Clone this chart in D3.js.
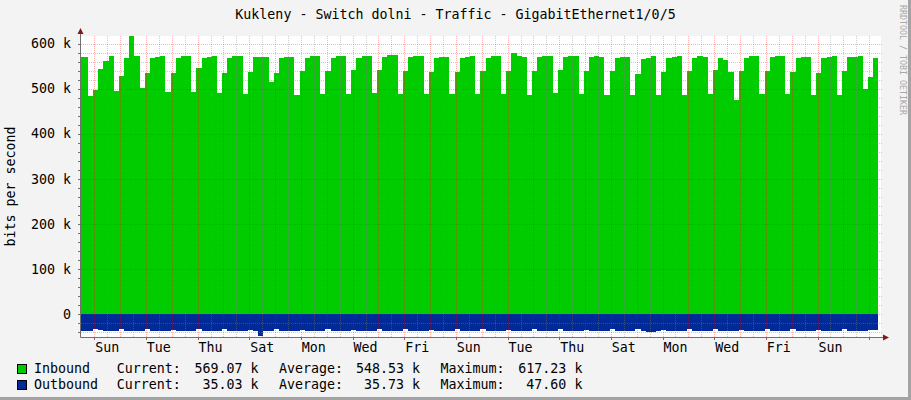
<!DOCTYPE html>
<html>
<head>
<meta charset="utf-8">
<script src="https://cdnjs.cloudflare.com/ajax/libs/d3/7.8.5/d3.min.js"></script>
<style>
    html, body { margin: 0; padding: 0; background: #f3f3f3; }
    svg { display: block; font-family: 'DejaVu Sans Mono', monospace; }
</style>
</head>
<body>
<div id="chart"></div>
<script>
'use strict';

var titleText = 'Kukleny - Switch dolni - Traffic - GigabitEthernet1/0/5';
var yAxisTitle = 'bits per second';

// day labels sit under every second day (day 0 is a Sunday)
var dayLabels = ['Sun', 'Tue', 'Thu', 'Sat', 'Mon', 'Wed', 'Fri', 'Sun',
                 'Tue', 'Thu', 'Sat', 'Mon', 'Wed', 'Fri', 'Sun'];

var yTickValues = [0, 100, 200, 300, 400, 500, 600];
var yTickLabels = ['0', '100 k', '200 k', '300 k', '400 k', '500 k', '600 k'];

// samples in kbit/s, one every 0.2 day, first one starting at day -0.65
var sampleStart = -0.65;
var sampleStep = 0.2;

var inbound = [
    570, 570,
    485, 498, 544, 562, 573,
    496, 529, 569, 617, 573,
    502, 536, 569, 571, 573,
    493, 536, 569, 573, 573,
    493, 547, 569, 571, 573,
    491, 536, 569, 573, 573,
    489, 538, 571, 571, 571,
    516, 536, 569, 571, 571,
    487, 540, 569, 573, 573,
    489, 540, 569, 573, 573,
    489, 542, 569, 573, 573,
    491, 542, 571, 575, 575,
    489, 540, 571, 573, 573,
    489, 538, 569, 571, 571,
    489, 538, 569, 571, 573,
    489, 540, 569, 573, 573,
    489, 540, 580, 573, 571,
    487, 540, 571, 573, 573,
    491, 542, 571, 573, 573,
    489, 540, 571, 573, 571,
    487, 540, 569, 571, 571,
    487, 533, 567, 569, 573,
    487, 538, 569, 571, 573,
    487, 540, 569, 573, 571,
    489, 542, 569, 564, 538,
    476, 540, 569, 573, 573,
    489, 540, 571, 573, 573,
    489, 538, 569, 571, 571,
    487, 536, 569, 571, 573,
    487, 540, 571, 571, 573,
    500, 527, 569
];

var outbound = [
    37, 37,
    36, 33, 34, 37, 37,
    36, 33, 37, 37, 37,
    37, 33, 37, 37, 36,
    37, 34, 37, 37, 37,
    36, 33, 37, 37, 37,
    37, 33, 36, 37, 37,
    36, 34, 37, 47.6, 37,
    36, 33, 37, 37, 37,
    36, 34, 37, 37, 37,
    37, 33, 37, 37, 36,
    36, 34, 37, 37, 37,
    36, 33, 37, 37, 37,
    37, 33, 37, 37, 37,
    36, 34, 37, 37, 37,
    36, 33, 37, 37, 36,
    37, 33, 37, 37, 37,
    36, 34, 37, 37, 37,
    36, 33, 37, 37, 37,
    37, 33, 37, 37, 37,
    36, 34, 37, 37, 37,
    36, 33, 37, 37, 36,
    37, 33, 37, 38, 38,
    36, 34, 37, 37, 37,
    36, 33, 37, 37, 37,
    37, 33, 37, 37, 37,
    36, 34, 37, 37, 37,
    36, 33, 37, 37, 36,
    37, 33, 37, 37, 37,
    36, 34, 37, 37, 37,
    36, 33, 36, 36, 36,
    36, 34, 35
];

var legendNames = ['Inbound', 'Outbound'];
var legendColors = ['#00cc00', '#002a97'];
var currentVals = ['569.07 k', '35.03 k'];
var averageVals = ['548.53 k', '35.73 k'];
var maximumVals = ['617.23 k', '47.60 k'];

var W = 911, H = 400;
var plot = { left: 81, right: 881, top: 36, bottom: 337 };

var svg = d3.select('#chart').append('svg')
    .attr('width', W)
    .attr('height', H)
    .attr('xmlns', 'http://www.w3.org/2000/svg');

svg.append('rect').attr('width', W).attr('height', H).attr('fill', '#f3f3f3');
svg.append('rect').attr('x', W - 3).attr('y', 0).attr('width', 3).attr('height', H).attr('fill', '#a3a3a3');
svg.append('rect').attr('x', 0).attr('y', H - 3).attr('width', W).attr('height', 3).attr('fill', '#a3a3a3');

var x = d3.scaleLinear().domain([-0.515, 30.456]).range([plot.left, plot.right]);
var y = d3.scaleLinear().domain([-50, 617.23]).range([plot.bottom, plot.top]);

svg.append('rect')
    .attr('x', plot.left).attr('y', plot.top)
    .attr('width', plot.right - plot.left).attr('height', plot.bottom - plot.top)
    .attr('fill', '#ffffff');

svg.append('clipPath').attr('id', 'plot-clip')
    .append('rect')
    .attr('x', plot.left).attr('y', plot.top)
    .attr('width', plot.right - plot.left).attr('height', plot.bottom - plot.top);

var toPoints = function(values) {
    var pts = values.map(function(v, i) {
        return { t: sampleStart + i * sampleStep, v: v };
    });
    pts.push({ t: sampleStart + values.length * sampleStep, v: values[values.length - 1] });
    return pts;
};

var data = svg.append('g').attr('clip-path', 'url(#plot-clip)');

data.append('path')
    .datum(toPoints(inbound))
    .attr('fill', legendColors[0])
    .attr('shape-rendering', 'crispEdges')
    .attr('d', d3.area().curve(d3.curveStepAfter)
        .x(function(d) { return x(d.t); })
        .y0(y(0))
        .y1(function(d) { return y(d.v); }));

data.append('path')
    .datum(toPoints(outbound))
    .attr('fill', legendColors[1])
    .attr('shape-rendering', 'crispEdges')
    .attr('d', d3.area().curve(d3.curveStepAfter)
        .x(function(d) { return x(d.t); })
        .y0(y(0))
        .y1(function(d) { return y(-d.v); }));

// grid on top of the data, like rrdtool
var minorGrey = 'rgba(128,128,128,0.4)';
var majorRed = 'rgba(255,0,0,0.3)';
var crisp = function(v) { return Math.round(v) + 0.5; };

var grid = svg.append('g').attr('class', 'grid').attr('stroke-dasharray', '1,1');

var yMinor = d3.range(-40, 617, 20).filter(function(v) { return v % 100 !== 0; });
grid.selectAll('line.y-minor').data(yMinor).enter()
    .append('line')
    .attr('class', 'y-minor')
    .attr('x1', plot.left).attr('x2', plot.right + 2)
    .attr('y1', function(d) { return crisp(y(d)); })
    .attr('y2', function(d) { return crisp(y(d)); })
    .attr('stroke', minorGrey);

var xMinor = d3.range(0.5, 30.5, 1);
grid.selectAll('line.x-minor').data(xMinor).enter()
    .append('line')
    .attr('class', 'x-minor')
    .attr('x1', function(d) { return crisp(x(d)); })
    .attr('x2', function(d) { return crisp(x(d)); })
    .attr('y1', plot.top).attr('y2', plot.bottom)
    .attr('stroke', minorGrey);

grid.selectAll('line.y-major').data(yTickValues).enter()
    .append('line')
    .attr('class', 'y-major')
    .attr('x1', plot.left).attr('x2', plot.right + 2)
    .attr('y1', function(d) { return crisp(y(d)); })
    .attr('y2', function(d) { return crisp(y(d)); })
    .attr('stroke', majorRed);

var xMajor = d3.range(0, 31, 1);
grid.selectAll('line.x-major').data(xMajor).enter()
    .append('line')
    .attr('class', 'x-major')
    .attr('x1', function(d) { return crisp(x(d)); })
    .attr('x2', function(d) { return crisp(x(d)); })
    .attr('y1', plot.top).attr('y2', plot.bottom)
    .attr('stroke', majorRed);

// axes
var axisColor = '#707070';
var axes = svg.append('g').attr('class', 'axes');

axes.selectAll('line.y-tick').data(yMinor.concat(yTickValues)).enter()
    .append('line')
    .attr('class', 'y-tick')
    .attr('x1', plot.left - 3).attr('x2', plot.left)
    .attr('y1', function(d) { return crisp(y(d)); })
    .attr('y2', function(d) { return crisp(y(d)); })
    .attr('stroke', axisColor);

axes.selectAll('line.x-tick').data(d3.range(0, 31, 2)).enter()
    .append('line')
    .attr('class', 'x-tick')
    .attr('x1', function(d) { return crisp(x(d)); })
    .attr('x2', function(d) { return crisp(x(d)); })
    .attr('y1', plot.bottom).attr('y2', plot.bottom + 3)
    .attr('stroke', axisColor);

axes.append('line')
    .attr('x1', plot.left - 0.5).attr('x2', plot.left - 0.5)
    .attr('y1', plot.bottom + 0.5).attr('y2', plot.top - 5)
    .attr('stroke', axisColor);

axes.append('line')
    .attr('x1', plot.left - 0.5).attr('x2', plot.right + 3)
    .attr('y1', plot.bottom + 0.5).attr('y2', plot.bottom + 0.5)
    .attr('stroke', axisColor);

axes.append('path')
    .attr('d', 'M' + (plot.left - 3.5) + ',' + (plot.top - 2) + 'L' + (plot.left - 0.5) + ',' + (plot.top - 8) +
               'L' + (plot.left + 2.5) + ',' + (plot.top - 2) + 'Z')
    .attr('fill', '#7f1a1a');

axes.append('path')
    .attr('d', 'M' + (plot.right + 2) + ',' + (plot.bottom - 2.5) + 'L' + (plot.right + 8) + ',' + (plot.bottom + 0.5) +
               'L' + (plot.right + 2) + ',' + (plot.bottom + 3.5) + 'Z')
    .attr('fill', '#7f1a1a');

// text
var fontSize = '13.3px';
var textColor = '#000000';

svg.append('text')
    .attr('x', 455.5).attr('y', 19)
    .attr('text-anchor', 'middle')
    .attr('font-size', fontSize)
    .attr('fill', textColor)
    .text(titleText);

svg.append('text')
    .attr('transform', 'translate(15,' + ((plot.top + plot.bottom) / 2) + ') rotate(-90)')
    .attr('text-anchor', 'middle')
    .attr('font-size', fontSize)
    .attr('fill', textColor)
    .text(yAxisTitle);

svg.append('text')
    .attr('transform', 'translate(899.5,5) rotate(90)')
    .attr('font-size', '8.3px')
    .attr('fill', '#a8a8a8')
    .text('RRDTOOL / TOBI OETIKER');

svg.append('g').selectAll('text').data(yTickValues).enter()
    .append('text')
    .attr('x', 71)
    .attr('y', function(d) { return y(d) + 4.5; })
    .attr('text-anchor', 'end')
    .attr('font-size', fontSize)
    .attr('fill', textColor)
    .text(function(d, i) { return yTickLabels[i]; });

svg.append('g').selectAll('text').data(dayLabels).enter()
    .append('text')
    .attr('x', function(d, i) { return x(i * 2 + 0.5); })
    .attr('y', 351.5)
    .attr('text-anchor', 'middle')
    .attr('font-size', fontSize)
    .attr('fill', textColor)
    .text(function(d) { return d; });

// legend
var legend = svg.append('g').attr('class', 'legend')
    .selectAll('g').data(legendNames).enter()
    .append('g')
    .attr('transform', function(d, i) { return 'translate(0,' + (373.3 + i * 16) + ')'; });

legend.append('rect')
    .attr('x', 17.5).attr('y', -8.8)
    .attr('width', 9).attr('height', 9)
    .attr('fill', function(d, i) { return legendColors[i]; })
    .attr('stroke', '#000000');

var legendCol = function(xPos, anchor, getText) {
    legend.append('text')
        .attr('x', xPos)
        .attr('text-anchor', anchor)
        .attr('font-size', fontSize)
        .attr('fill', textColor)
        .text(getText);
};

legendCol(34, 'start', function(d) { return d; });
legendCol(116.7, 'start', function() { return 'Current:'; });
legendCol(258.6, 'end', function(d, i) { return currentVals[i]; });
legendCol(279, 'start', function() { return 'Average:'; });
legendCol(420, 'end', function(d, i) { return averageVals[i]; });
legendCol(440.5, 'start', function() { return 'Maximum:'; });
legendCol(582.4, 'end', function(d, i) { return maximumVals[i]; });
</script>
</body>
</html>
